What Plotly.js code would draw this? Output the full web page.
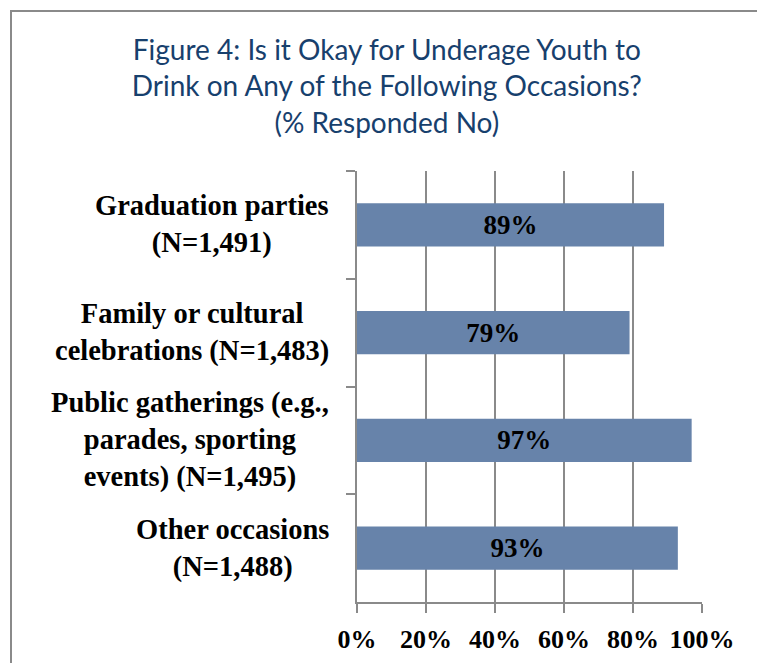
<!DOCTYPE html>
<html>
<head>
<meta charset="utf-8">
<script src="https://cdn.plot.ly/plotly-3.0.1.min.js"></script>
<style>
  html, body { margin: 0; padding: 0; background: #ffffff; overflow: hidden; }
  #chart { position: absolute; left: 0; top: 0; width: 757px; height: 663px; }
  #frame { position: absolute; left: 10px; top: 10px; width: 900px; height: 800px;
           border-left: 2px solid #8a8a8a; border-top: 2px solid #8a8a8a; pointer-events: none; }
</style>
</head>
<body>
<div id="chart"></div>
<div id="frame"></div>
<script>
const categories = [
  "Graduation parties<br>(N=1,491)",
  "Family or cultural<br>celebrations (N=1,483)",
  "Public gatherings (e.g.,<br>parades, sporting<br>events) (N=1,495)",
  "Other occasions<br>(N=1,488)"
];
const pctNo = [89, 79, 97, 93];
const tickVals = [0, 20, 40, 60, 80, 100];
const tickText = ["0%", "20%", "40%", "60%", "80%", "100%"];

const serif = "Liberation Serif, Times New Roman, serif";
const gridColor = "#8a8a8a";

const trace = {
  type: "bar",
  orientation: "h",
  x: pctNo,
  y: categories,
  marker: { color: "#6783AA" },
  text: pctNo.map(v => v + "%"),
  textposition: "inside",
  insidetextanchor: "middle",
  textangle: 0,
  insidetextfont: { family: serif, size: 27, color: "#000000", weight: "bold" },
  hoverinfo: "none"
};

const labelAnnotations = categories.map(c => ({
  xref: "paper", yref: "y",
  x: -0.075, y: c,
  xanchor: "right", yanchor: "middle",
  align: "center",
  text: c,
  showarrow: false,
  font: { family: serif, size: 28.5, color: "#000000", weight: "bold" }
}));

const layout = {
  width: 757, height: 663,
  margin: { l: 357, r: 55, t: 171, b: 61, pad: 0 },
  paper_bgcolor: "rgba(0,0,0,0)",
  plot_bgcolor: "rgba(0,0,0,0)",
  showlegend: false,
  bargap: 0.6,
  title: {
    text: "Figure 4: Is it Okay for Underage Youth to<br>Drink on Any of the Following Occasions?<br>(% Responded No)",
    font: { family: "Lato, Open Sans, sans-serif", size: 28, color: "#17406D" },
    xref: "container", x: 0.511, xanchor: "center",
    yref: "container", y: 1 - 60/663, yanchor: "top"
  },
  xaxis: {
    range: [0, 100],
    tickvals: tickVals,
    ticktext: tickText,
    showgrid: true,
    gridcolor: gridColor,
    gridwidth: 2,
    zeroline: false,
    showline: true,
    linecolor: gridColor,
    linewidth: 2,
    ticks: "outside",
    ticklen: 9,
    tickwidth: 2,
    tickcolor: gridColor,
    ticklabelstandoff: 4,
    tickfont: { family: serif, size: 26, color: "#000000", weight: "bold" },
    fixedrange: true
  },
  yaxis: {
    type: "category",
    categoryorder: "array",
    categoryarray: categories,
    autorange: "reversed",
    showticklabels: false,
    showgrid: false,
    zeroline: false,
    showline: true,
    linecolor: gridColor,
    linewidth: 2,
    ticks: "outside",
    tickson: "boundaries",
    ticklen: 9,
    tickwidth: 2,
    tickcolor: gridColor,
    fixedrange: true
  },
  annotations: labelAnnotations
};

Plotly.newPlot("chart", [trace], layout, { displayModeBar: false, staticPlot: true });
</script>
</body>
</html>
